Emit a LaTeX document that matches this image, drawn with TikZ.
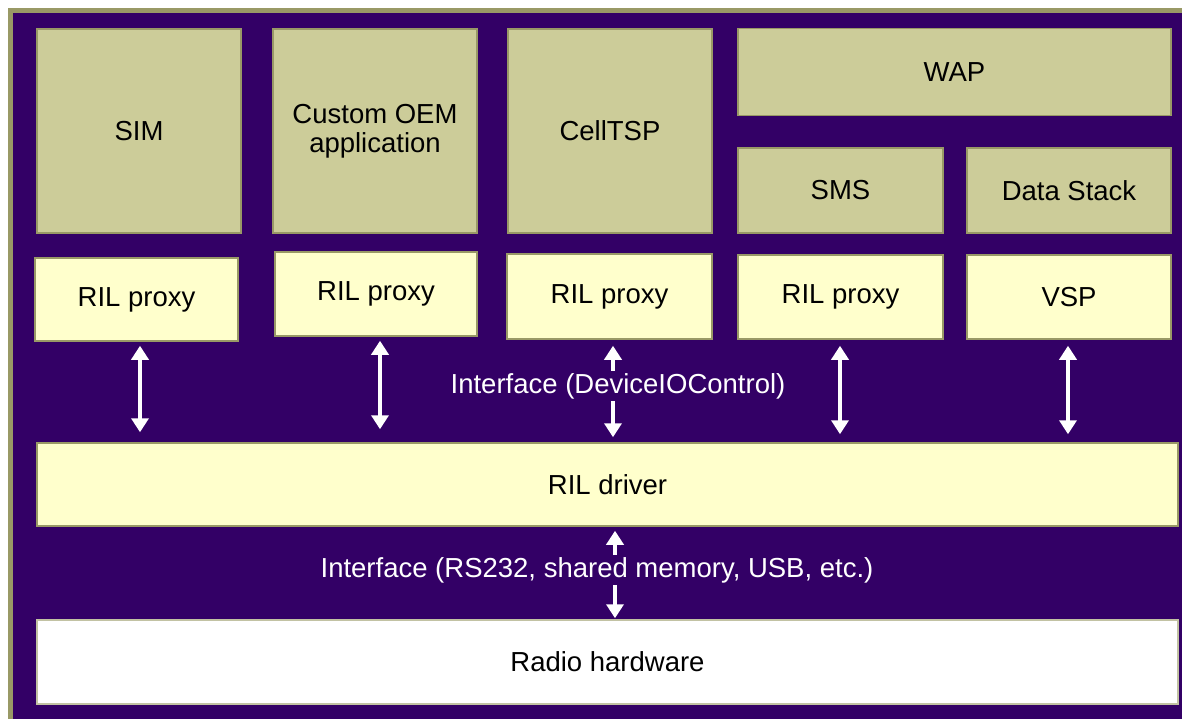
\documentclass[tikz,border=0pt]{standalone}
\usepackage{fontspec}
\setmainfont{Liberation Sans}
\usetikzlibrary{arrows.meta}
\definecolor{bgpurple}{HTML}{330066}
\definecolor{olive}{HTML}{CCCC99}
\definecolor{oliveedge}{HTML}{999966}
\definecolor{paleyellow}{HTML}{FFFFCC}
\tikzset{
  boxfont/.style={font=\fontsize{27.5}{29}\selectfont},
  upper/.style={draw=oliveedge, line width=1.5pt, fill=olive, inner sep=0pt, align=center, boxfont},
  lower/.style={draw=oliveedge, line width=1.5pt, fill=paleyellow, inner sep=0pt, align=center, boxfont},
  hw/.style={draw=oliveedge!60, line width=1.5pt, fill=white, inner sep=0pt, boxfont},
  dbl/.style={white, line width=4pt, {Triangle[width=17pt,length=14pt]}-{Triangle[width=17pt,length=14pt]}},
  iflabel/.style={text=white, fill=bgpurple, inner sep=2pt, boxfont}
}
\begin{document}
\begin{tikzpicture}[x=1pt,y=-1pt]
\useasboundingbox (0,0) rectangle (1182,719);
\fill[white] (0,0) rectangle (1182,719);
\begin{scope}
\clip (0,0) rectangle (1182,719);
\draw[oliveedge, line width=5pt, fill=bgpurple] (10.5,10.5) rectangle (1200,740);
\end{scope}
% top row
\node[upper, minimum width=204pt, minimum height=204pt] (sim) at (139,131) {SIM};
\node[upper, minimum width=204pt, minimum height=204pt] (oem) at (375,131) {Custom OEM\\application};
\node[upper, minimum width=204pt, minimum height=204pt] (tsp) at (610,131) {CellTSP};
\node[upper, minimum width=433pt, minimum height=87pt] (wap) at (954.5,72) {WAP};
\node[upper, minimum width=205pt, minimum height=85pt] (sms) at (840.5,190.5) {SMS};
\node[upper, minimum width=204pt, minimum height=85pt] (ds) at (1069,190.5) {Data Stack};
% second row
\node[lower, minimum width=203pt, minimum height=83pt] (p1) at (136.5,299.5) {RIL proxy};
\node[lower, minimum width=202pt, minimum height=84pt] (p2) at (376,294) {RIL proxy};
\node[lower, minimum width=205pt, minimum height=85pt] (p3) at (609.5,296.5) {RIL proxy};
\node[lower, minimum width=205pt, minimum height=84pt] (p4) at (840.5,297) {RIL proxy};
\node[lower, minimum width=204pt, minimum height=84pt] (vsp) at (1069,297) {VSP};
% driver and hardware
\node[lower, minimum width=1141pt, minimum height=83pt] (drv) at (607.5,484.5) {RIL driver};
\node[hw, minimum width=1141pt, minimum height=84pt] (radio) at (607.5,662) {Radio hardware};
% arrows
\draw[dbl, shorten <=4pt, shorten >=10pt] ([xshift=3.5pt]p1.south) -- ([xshift=3.5pt]p1.south |- drv.north);
\draw[dbl, shorten <=4pt, shorten >=13pt] ([xshift=4pt]p2.south) -- ([xshift=4pt]p2.south |- drv.north);
\draw[dbl, shorten <=6pt, shorten >=5pt] ([xshift=3.5pt]p3.south) -- ([xshift=3.5pt]p3.south |- drv.north);
\draw[dbl, shorten <=6pt, shorten >=8pt] ([xshift=-0.5pt]p4.south) -- ([xshift=-0.5pt]p4.south |- drv.north);
\draw[dbl, shorten <=6pt, shorten >=8pt] ([xshift=-1pt]vsp.south) -- ([xshift=-1pt]vsp.south |- drv.north);
\node[iflabel] (if1) at (618,386) {Interface (DeviceIOControl)};
\draw[dbl, shorten <=4pt, shorten >=1pt] ([xshift=7.5pt]drv.south) -- ([xshift=7.5pt]drv.south |- radio.north);
\node[iflabel] (if2) at (597,570) {Interface (RS232, shared memory, USB, etc.)};
\end{tikzpicture}
\end{document}
